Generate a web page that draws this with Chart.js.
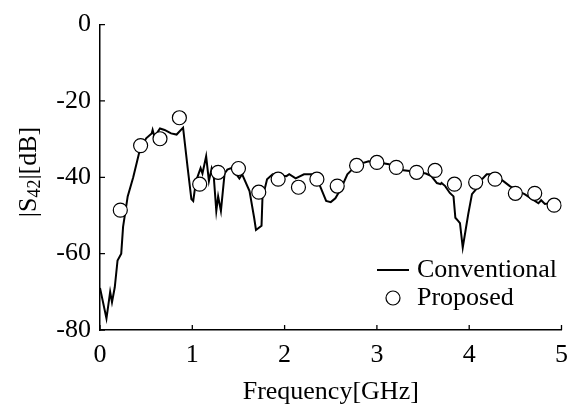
<!DOCTYPE html>
<html>
<head>
<meta charset="utf-8">
<script src="https://cdn.jsdelivr.net/npm/chart.js@4"></script>
<style>
  html, body { margin: 0; padding: 0; background: #fff; }
  #wrap { width: 578px; height: 412px; }
</style>
</head>
<body>
<div id="wrap"><canvas id="myChart" width="578" height="412"></canvas></div>
<script>
// |S42| data

// conventional (solid line)
var convFreq = [0, 0.07, 0.11, 0.13, 0.16, 0.19, 0.23, 0.25, 0.30, 0.36, 0.40, 0.43, 0.50, 0.56, 0.57, 0.59,
  0.65, 0.70, 0.77, 0.83, 0.90, 0.95, 0.99, 1.01, 1.04, 1.09, 1.11, 1.15, 1.18, 1.21, 1.23, 1.26, 1.28, 1.31,
  1.35, 1.38, 1.42, 1.47, 1.51, 1.54, 1.62, 1.67, 1.69, 1.75, 1.76, 1.81, 1.87, 2.02, 2.05, 2.12, 2.21, 2.27,
  2.32, 2.35, 2.45, 2.50, 2.55, 2.61, 2.68, 2.73, 2.80, 2.91, 3.02, 3.13, 3.24, 3.38, 3.53, 3.59, 3.65, 3.69,
  3.70, 3.74, 3.79, 3.83, 3.85, 3.88, 3.90, 3.93, 3.96, 3.99, 4.03, 4.08, 4.12, 4.19, 4.26, 4.37, 4.44, 4.53,
  4.60, 4.67, 4.75, 4.78, 4.82, 4.87, 4.93, 5.0];
var convS42 = [-69, -77, -70, -72.7, -68.8, -61.8, -60, -53, -45, -40, -36, -33, -29.8, -28.5, -27.6, -29.4,
  -27.2, -27.6, -28.5, -28.8, -27, -37.6, -45.7, -46.2, -41, -37.6, -39, -34.5, -41, -37.6, -39, -48.8, -45, -48.8,
  -39, -38, -37.6, -39, -40.3, -39.2, -43.6, -50.6, -53.8, -52.7, -45.5, -40.5, -39.2, -39.7, -39.2, -40.3, -39.2, -39.2,
  -39.2, -40.3, -46.2, -46.5, -45.5, -43, -39.2, -38, -36.6, -35.8, -36.1, -36.6, -38, -38.4, -39, -39.7, -41.5, -41.8,
  -41.5, -42.3, -44.1, -45, -50.6, -51.4, -52, -58.4, -54, -49.6, -44.4, -43, -41, -39.2, -39.2, -41, -42.3, -43.6,
  -44.4, -45.5, -46.8, -46, -47, -46.8, -47, -47.5];

// proposed (circles)
var propFreq = [0.22, 0.44, 0.65, 0.86, 1.08, 1.28, 1.50, 1.72, 1.93, 2.15, 2.35, 2.57, 2.78, 3.00, 3.21,
  3.43, 3.63, 3.84, 4.07, 4.28, 4.50, 4.71, 4.92];
var propS42 = [-48.6, -31.7, -29.9, -24.4, -41.8, -38.7, -37.7, -43.9, -40.5, -42.6, -40.5, -42.3, -36.9, -36.1, -37.4,
  -38.7, -38.2, -41.8, -41.3, -40.5, -44.2, -44.2, -47.3];

var xTicks = [0, 1, 2, 3, 4, 5];
var yTicks = [-80, -60, -40, -20, 0];
var seriesNames = ["Conventional", "Proposed"];

var FONT = "'Liberation Serif', 'Times New Roman', serif";

function toPoints(xs, ys) {
  var pts = [];
  for (var i = 0; i < xs.length; i++) pts.push({ x: xs[i], y: ys[i] });
  return pts;
}

// inward ticks, axis titles and legend
var decorations = {
  id: 'decorations',
  afterDraw: function (chart) {
    var ctx = chart.ctx;
    var area = chart.chartArea;
    var xs = chart.scales.x, ys = chart.scales.y;
    ctx.save();
    ctx.strokeStyle = '#000';
    ctx.lineWidth = 1.3;
    ctx.beginPath();
    xTicks.forEach(function (t) {
      var px = xs.getPixelForValue(t);
      ctx.moveTo(px, area.bottom);
      ctx.lineTo(px, area.bottom - 5);
    });
    yTicks.forEach(function (t) {
      var py = ys.getPixelForValue(t);
      ctx.moveTo(area.left, py);
      ctx.lineTo(area.left + 5, py);
    });
    ctx.stroke();

    ctx.fillStyle = '#000';
    ctx.font = '26px ' + FONT;
    ctx.textBaseline = 'middle';

    // x title
    ctx.textAlign = 'center';
    ctx.fillText('Frequency[GHz]', (area.left + area.right) / 2, 392);

    // y title with subscript
    ctx.save();
    ctx.translate(29, 172);
    ctx.rotate(-Math.PI / 2);
    var big = '26px ' + FONT, small = '18px ' + FONT;
    ctx.font = big; var w1 = ctx.measureText('|S').width;
    ctx.font = small; var w2 = ctx.measureText('42').width;
    ctx.font = big; var w3 = ctx.measureText('|[dB]').width;
    var x0 = -(w1 + w2 + w3) / 2;
    ctx.textAlign = 'left';
    ctx.font = big; ctx.fillText('|S', x0, 0);
    ctx.font = small; ctx.fillText('42', x0 + w1, 6);
    ctx.font = big; ctx.fillText('|[dB]', x0 + w1 + w2, 0);
    ctx.restore();

    // legend
    var d0 = chart.data.datasets[0], d1 = chart.data.datasets[1];
    ctx.strokeStyle = d0.borderColor;
    ctx.lineWidth = d0.borderWidth;
    ctx.beginPath();
    ctx.moveTo(377, 270);
    ctx.lineTo(409, 270);
    ctx.stroke();
    ctx.beginPath();
    ctx.arc(393, 298, d1.pointRadius, 0, Math.PI * 2);
    ctx.fillStyle = d1.pointBackgroundColor;
    ctx.fill();
    ctx.strokeStyle = d1.pointBorderColor;
    ctx.lineWidth = d1.pointBorderWidth;
    ctx.stroke();
    ctx.fillStyle = '#000';
    ctx.font = '26px ' + FONT;
    ctx.textAlign = 'left';
    ctx.fillText(seriesNames[0], 417, 270);
    ctx.fillText(seriesNames[1], 417, 298);
    ctx.restore();
  }
};

var config = {
  type: 'scatter',
  data: {
    datasets: [{
      label: seriesNames[0],
      data: toPoints(convFreq, convS42),
      showLine: true,
      borderColor: '#000',
      borderWidth: 2,
      pointRadius: 0,
      tension: 0,
      order: 2
    }, {
      label: seriesNames[1],
      data: toPoints(propFreq, propS42),
      showLine: false,
      pointRadius: 7,
      pointBackgroundColor: '#fff',
      pointBorderColor: '#000',
      pointBorderWidth: 1.2,
      order: 1
    }]
  },
  options: {
    responsive: false,
    animation: false,
    layout: { padding: { top: 22, right: 15, left: 0, bottom: 0 } },
    plugins: { legend: { display: false }, tooltip: { enabled: false } },
    scales: {
      x: {
        type: 'linear',
        min: 0, max: 5,
        afterFit: function (s) { s.height = 82; },
        afterBuildTicks: function (s) { s.ticks = xTicks.map(function (v) { return { value: v }; }); },
        grid: { display: false, drawTicks: false },
        border: { display: true, color: '#000', width: 1.5 },
        ticks: { color: '#000', padding: 10, font: { family: FONT, size: 26 }, maxRotation: 0 }
      },
      y: {
        type: 'linear',
        min: -80, max: 0,
        afterFit: function (s) { s.width = 100; },
        afterBuildTicks: function (s) { s.ticks = yTicks.map(function (v) { return { value: v }; }); },
        grid: { display: false, drawTicks: false },
        border: { display: true, color: '#000', width: 1.5 },
        ticks: { color: '#000', padding: 9, font: { family: FONT, size: 26 } }
      }
    }
  },
  plugins: [decorations]
};

var myChart = new Chart(document.getElementById('myChart'), config);
</script>
</body>
</html>
